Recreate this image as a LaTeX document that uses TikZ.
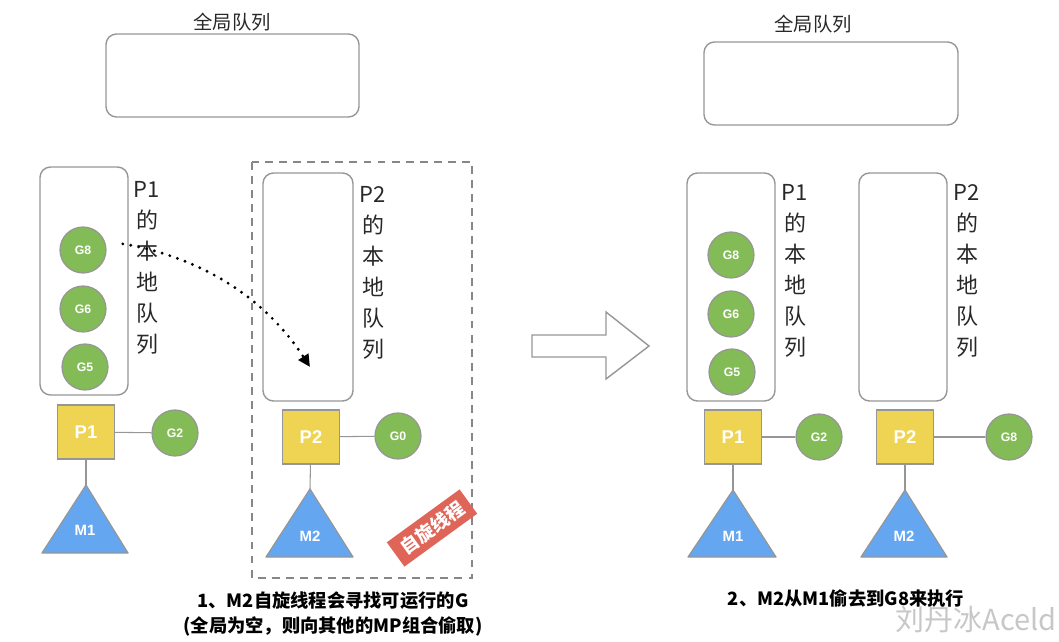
\documentclass[tikz,border=0pt]{standalone}
\usepackage{fontspec}
\setmainfont{Liberation Sans}
\newfontfamily\cjk{Noto Sans CJK SC}
\usetikzlibrary{arrows.meta}

\definecolor{gyellow}{RGB}{239,211,82}
\definecolor{ggreen}{RGB}{131,187,86}
\definecolor{gblue}{RGB}{101,166,240}
\definecolor{gedge}{RGB}{150,150,150}
\definecolor{gred}{RGB}{222,101,88}
\definecolor{gtext}{RGB}{40,40,40}

\begin{document}
\begin{tikzpicture}[x=0.02cm,y=-0.02cm]
\tikzset{
  queuebox/.style={draw=gedge,line width=0.8pt,rounded corners=6pt},
  gnode/.style={circle,draw=gedge,fill=ggreen,line width=0.7pt,minimum size=0.92cm,inner sep=0pt,
    text=white,font=\bfseries\fontsize{7}{8}\selectfont},
  pnode/.style={rectangle,draw=gedge,fill=gyellow,line width=0.7pt,minimum width=1.14cm,minimum height=1.08cm,
    inner sep=0pt,text=white,font=\bfseries\fontsize{10.5}{12}\selectfont},
  mtri/.style={draw=gedge,fill=gblue,line width=0.7pt,line join=round},
  mlabel/.style={text=white,font=\bfseries\fontsize{8.5}{10}\selectfont},
  link/.style={draw=gedge,line width=0.6pt},
  qlabel/.style={anchor=north,align=center,inner sep=0pt,text=gtext,font=\cjk\fontsize{12.5}{17.6}\selectfont},
  title/.style={text=gtext,font=\cjk\fontsize{11}{13}\selectfont},
  caption/.style={align=center,text=black,font=\cjk\bfseries\fontsize{10.4}{14}\selectfont},
  spintag/.style={fill=gred,text=white,minimum width=1.8cm,minimum height=0.6cm,inner sep=0pt,
    font=\cjk\bfseries\fontsize{10.5}{11}\selectfont},
  dotarrow/.style={line width=1.8pt,line cap=round,dash pattern=on 0pt off 4.6pt,
    -{Triangle[length=7pt,width=6.5pt]}},
  spinframe/.style={draw=gedge!90!black,line width=0.7pt,dash pattern=on 4.5pt off 3.5pt}
}
\useasboundingbox (0,0) rectangle (1059,642);

% left: before stealing
\node[title] (n_ltitle) at (232,22) {全局队列};
\draw[queuebox] (106,34) rectangle (359,117);
\draw[spinframe] (252,162) rectangle (472,578);

\draw[queuebox] (40,167) rectangle (128,395);
\node[qlabel] (n_lq1) at (147,181) {P1\\的\\本\\地\\队\\列};
\node[gnode] (n_lg8) at (83,250) {G8};
\node[gnode] (n_lg6) at (83,309) {G6};
\node[gnode] (n_lg5) at (85,367) {G5};
\node[pnode] (n_lp1) at (86,432) {P1};
\node[gnode] (n_lg2) at (175,433) {G2};
\draw[mtri] (86,485) coordinate (n_lm1top) -- (128,553) -- (42,553) -- cycle;
\node[mlabel] (n_lm1) at (85,530) {M1};
\draw[link] (n_lp1) -- (n_lg2);
\draw[link] (n_lp1) -- (n_lm1top);

\draw[queuebox] (263,173) rectangle (353,401);
\node[qlabel] (n_lq2) at (373,186) {P2\\的\\本\\地\\队\\列};
\node[pnode] (n_lp2) at (311,437) {P2};
\node[gnode] (n_lg0) at (398,436) {G0};
\draw[mtri] (310,489) coordinate (n_lm2top) -- (353,557) -- (266,557) -- cycle;
\node[mlabel] (n_lm2) at (310,536) {M2};
\draw[link] (n_lp2) -- (n_lg0);
\draw[link] (n_lp2) -- (n_lm2top);
\node[spintag,rotate=36] (n_spin) at (432,528) {自旋线程};

\coordinate (n_steal) at (310,367);
\draw[dotarrow] ([xshift=0.34cm]n_lg8.15) .. controls (190,255) and (260,290) .. (n_steal);

\node[caption] (n_lcap) at (333,614) {1、M2自旋线程会寻找可运行的G\\(全局为空，则向其他的MP组合偷取)};

% hollow arrow
\draw[draw=gedge,line width=0.8pt,line join=miter] (532,335) -- (606,335) -- (606,312) -- (649,346)
  -- (606,379) -- (606,357) -- (532,357) -- cycle;

% right: after stealing
\node[title] (n_rtitle) at (813,24) {全局队列};
\draw[queuebox] (704,42) rectangle (958,125);

\draw[queuebox] (687,173) rectangle (775,401);
\node[qlabel] (n_rq1) at (795,184) {P1\\的\\本\\地\\队\\列};
\node[gnode] (n_rg8) at (731,255) {G8};
\node[gnode] (n_rg6) at (731,314) {G6};
\node[gnode] (n_rg5) at (732,372) {G5};
\node[pnode] (n_rp1) at (733,437) {P1};
\node[gnode] (n_rg2) at (819,437) {G2};
\draw[mtri] (733,490) coordinate (n_rm1top) -- (776,557) -- (688,557) -- cycle;
\node[mlabel] (n_rm1) at (733,536) {M1};
\draw[link] (n_rp1) -- (n_rg2);
\draw[link] (n_rp1) -- (n_rm1top);

\draw[queuebox] (859,173) rectangle (947,401);
\node[qlabel] (n_rq2) at (967,184) {P2\\的\\本\\地\\队\\列};
\node[pnode] (n_rp2) at (905,437) {P2};
\node[gnode] (n_rg8b) at (1009,437) {G8};
\draw[mtri] (905,490) coordinate (n_rm2top) -- (947,557) -- (861,557) -- cycle;
\node[mlabel] (n_rm2) at (904,536) {M2};
\draw[link] (n_rp2) -- (n_rg8b);
\draw[link] (n_rp2) -- (n_rm2top);

\node[caption] (n_rcap) at (846,599) {2、M2从M1偷去到G8来执行};
\node[anchor=east,inner sep=0pt,text=black!22,font=\cjk\fontsize{16.5}{18}\selectfont] (n_mark) at (1057,620) {刘丹冰Aceld};
\end{tikzpicture}
\end{document}
